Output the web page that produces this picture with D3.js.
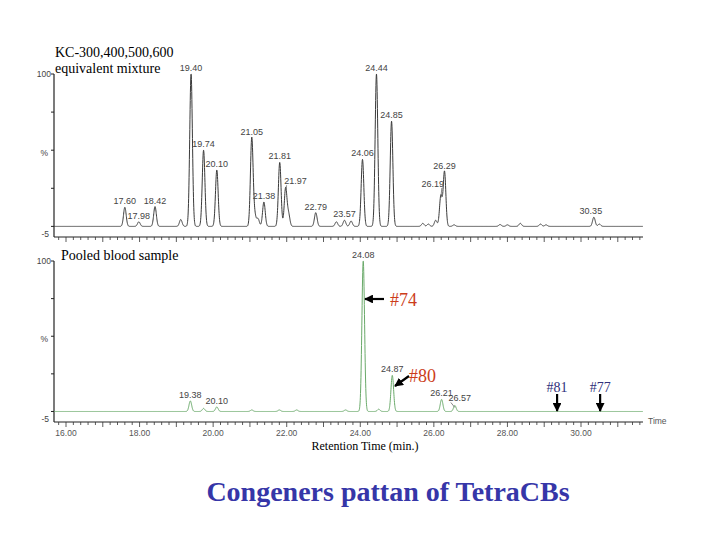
<!DOCTYPE html>
<html>
<head>
<meta charset="utf-8">
<script src="https://cdn.jsdelivr.net/npm/d3@7"></script>
<style>
  body { margin: 0; background: #fff; }
  text { font-family: "Liberation Sans", Arial, sans-serif; }
  .serif { font-family: "Liberation Serif", "Times New Roman", serif; }
</style>
</head>
<body>
<svg width="720" height="540"></svg>
<script>
// KC-300,400,500,600 mixture: retention time (min), height (%), label
const mixTimes  = [17.60, 17.98, 18.42, 19.12, 19.40, 19.74, 20.10, 21.05, 21.13, 21.22, 21.38, 21.81, 21.97, 22.05, 22.79, 23.35, 23.57, 23.75, 24.06, 24.44, 24.85, 25.70, 25.85, 26.05, 26.19, 26.29, 26.55, 27.80, 28.00, 28.35, 28.90, 29.05, 30.35, 30.50]
const mixHeights = [12.5, 3, 13, 4.5, 100, 50, 37, 58, 7, 5, 16, 42, 25, 8, 9, 3, 4, 3.5, 44, 100, 69, 2, 1.5, 4, 20, 36, 1, 1.2, 1, 2, 1.5, 1, 6, 1.5]
const mixLabels = ["17.60", "17.98", "18.42", null, "19.40", "19.74", "20.10", "21.05", null, null, "21.38", "21.81", "21.97", null, "22.79", null, "23.57", null, "24.06", "24.44", "24.85", null, null, null, "26.19", "26.29", null, null, null, null, null, null, "30.35", null]

// pooled blood sample
const bloodTimes  = [19.38, 19.74, 20.10, 21.05, 21.80, 22.27, 23.60, 24.08, 24.50, 24.87, 26.21, 26.57]
const bloodHeights = [7, 2, 3, 1, 1, 1, 1, 100, 1.5, 24, 8, 4]
const bloodLabels = ["19.38", null, "20.10", null, null, null, null, "24.08", null, "24.87", "26.21", "26.57"]

const xTicks = [16, 18, 20, 22, 24, 26, 28, 30]

// layout nudges for a few crowded labels
const nudges = {"21.97": [10, -1, true], "26.19": [-8, -6, true], "30.35": [-3, 0, false], "26.57": [5, -1, true]}

const svg = d3.select("svg")
const x = d3.scaleLinear().domain([16, 30]).range([66, 581])
const t0 = x.invert(54), t1 = x.invert(643)
const sigma = 0.036

function trace(times, heights) {
    const pts = []
    for (let t = t0; t <= t1; t += 0.004) {
        let v = 0
        for (let i = 0; i < times.length; i++) {
            v += heights[i] * Math.exp(-Math.pow(t - times[i], 2) / (2 * sigma * sigma))
        }
        pts.push([t, v])
    }
    return pts
}

function panel(top, axisY, times, heights, labels, color, showTickLabels) {
    const y = d3.scaleLinear().domain([-5, 100]).range([axisY - 3, top])
    const g = svg.append("g")

    // y axis
    g.append("line").attr("x1", 54).attr("x2", 54).attr("y1", top).attr("y2", axisY)
        .attr("stroke", "#222").attr("stroke-width", 1.2)
    ;[0, 25, 50, 75, 100].forEach(v => {
        g.append("line").attr("x1", 51).attr("x2", 54).attr("y1", y(v)).attr("y2", y(v))
            .attr("stroke", "#222")
    })
    g.append("text").attr("x", 51).attr("y", y(100) + 3).attr("text-anchor", "end")
        .attr("font-size", 8.5).attr("fill", "#444").text("100")
    g.append("text").attr("x", 49).attr("y", y(-5) + 3).attr("text-anchor", "end")
        .attr("font-size", 8.5).attr("fill", "#444").text("-5")
    g.append("text").attr("x", 48).attr("y", y(50) + 6).attr("text-anchor", "end")
        .attr("font-size", 8.5).attr("fill", "#444").text("%")

    // x axis with minor ticks
    g.append("line").attr("x1", 54).attr("x2", 643).attr("y1", axisY).attr("y2", axisY)
        .attr("stroke", "#222").attr("stroke-width", 1.2)
    for (let k = Math.ceil(t0 * 5); k <= Math.floor(t1 * 5); k++) {
        const tk = k / 5
        const major = Math.abs(tk - Math.round(tk)) < 1e-6
        g.append("line").attr("x1", x(tk)).attr("x2", x(tk))
            .attr("y1", axisY).attr("y2", axisY + (major ? 5 : 3))
            .attr("stroke", "#333").attr("stroke-width", 0.8)
    }
    if (showTickLabels) {
        g.selectAll(".tl").data(xTicks).enter().append("text")
            .attr("x", d => x(d)).attr("y", axisY + 14).attr("text-anchor", "middle")
            .attr("font-size", 8.5).attr("fill", "#555").text(d => d.toFixed(2))
        g.append("text").attr("x", 648).attr("y", axisY + 2).attr("font-size", 8.5)
            .attr("fill", "#555").text("Time")
    }

    // trace
    const line = d3.line().x(d => x(d[0])).y(d => y(d[1]))
    g.append("path").datum(trace(times, heights)).attr("d", line)
        .attr("fill", "none").attr("stroke", color).attr("stroke-width", 1)

    // peak labels
    times.forEach((t, i) => {
        if (!labels[i]) return
        const n = nudges[labels[i]] || [0, 0, false]
        const apex = y(heights[i])
        const lx = x(t) + n[0], ly = apex - 3 + n[1]
        g.append("text").attr("x", lx).attr("y", ly).attr("text-anchor", "middle")
            .attr("font-size", 9).attr("fill", "#444").text(labels[i])
        if (n[2]) {
            const sx = n[0] > 0 ? lx - 9 : lx + 9
            g.append("line").attr("x1", sx).attr("y1", ly + 1).attr("x2", x(t)).attr("y2", apex + 2)
                .attr("stroke", "#555").attr("stroke-width", 0.7)
        }
    })
    return y
}

panel(74, 237, mixTimes, mixHeights, mixLabels, "#3a3a3a", false)
panel(261, 422, bloodTimes, bloodHeights, bloodLabels, "#6aaa6a", true)

// titles
svg.append("text").attr("class", "serif").attr("x", 55).attr("y", 57).attr("font-size", 14)
    .text("KC-300,400,500,600")
svg.append("text").attr("class", "serif").attr("x", 55).attr("y", 73).attr("font-size", 14)
    .text("equivalent mixture")
svg.append("text").attr("class", "serif").attr("x", 61).attr("y", 260).attr("font-size", 14)
    .text("Pooled blood sample")
svg.append("text").attr("class", "serif").attr("x", 365).attr("y", 450).attr("font-size", 12)
    .attr("text-anchor", "middle").text("Retention Time (min.)")
svg.append("text").attr("class", "serif").attr("x", 388).attr("y", 501).attr("font-size", 28)
    .attr("font-weight", "bold").attr("text-anchor", "middle").attr("fill", "#3636a8")
    .text("Congeners pattan of TetraCBs")

// congener annotations
svg.append("defs").append("marker").attr("id", "ah").attr("viewBox", "0 0 10 10")
    .attr("refX", 9).attr("refY", 5).attr("markerWidth", 4).attr("markerHeight", 4)
    .attr("orient", "auto").append("path").attr("d", "M0,0L10,5L0,10z").attr("fill", "#000")

function arrow(x1, y1, x2, y2) {
    svg.append("line").attr("x1", x1).attr("y1", y1).attr("x2", x2).attr("y2", y2)
        .attr("stroke", "#000").attr("stroke-width", 2.2).attr("marker-end", "url(#ah)")
}
arrow(384, 299, 365, 299)
svg.append("text").attr("class", "serif").attr("x", 390).attr("y", 306).attr("font-size", 18)
    .attr("fill", "#cc3d1a").text("#74")
arrow(409, 376, 395, 386)
svg.append("text").attr("class", "serif").attr("x", 409).attr("y", 382).attr("font-size", 18)
    .attr("fill", "#cc3d1a").text("#80")
arrow(x(29.35), 394, x(29.35), 411)
svg.append("text").attr("class", "serif").attr("x", x(29.35)).attr("y", 392).attr("font-size", 14)
    .attr("text-anchor", "middle").attr("fill", "#30307a").text("#81")
arrow(x(30.52), 394, x(30.52), 411)
svg.append("text").attr("class", "serif").attr("x", x(30.52)).attr("y", 392).attr("font-size", 14)
    .attr("text-anchor", "middle").attr("fill", "#30307a").text("#77")
</script>
</body>
</html>
